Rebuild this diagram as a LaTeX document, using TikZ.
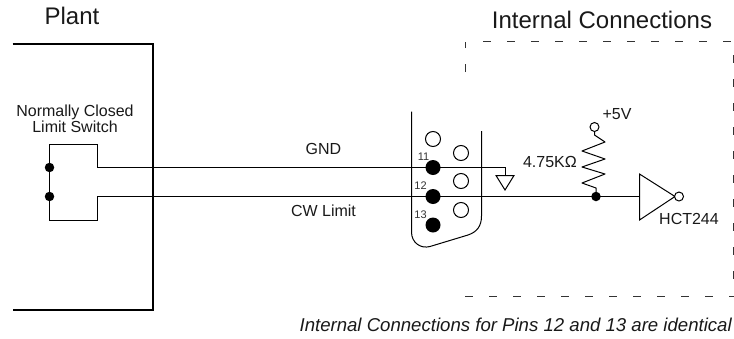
\documentclass[tikz,border=0pt]{standalone}
\usepackage{fontspec}
\setmainfont{Liberation Sans}
\tikzset{
  wire/.style={draw=black,line width=1pt,line join=miter},
  frame/.style={draw=black,line width=2pt},
  dash box/.style={draw=black!80,line width=1pt,dash pattern=on 8pt off 16pt},
  hole/.style={circle,draw=black,line width=1pt,fill=white,minimum size=15pt,inner sep=0pt},
  pin/.style={circle,fill=black,minimum size=15pt,inner sep=0pt},
  dot/.style={circle,fill=black,minimum size=9.5pt,inner sep=0pt},
  term/.style={circle,draw=black,line width=1pt,fill=white,minimum size=9pt,inner sep=0pt},
  lab/.style={font=\fontsize{16}{17}\selectfont,inner sep=0pt,text=black!90},
  big/.style={font=\fontsize{24}{26}\selectfont,inner sep=0pt,text=black!90},
  pinlab/.style={font=\fontsize{11}{11}\selectfont,inner sep=0pt,text=black!80}
}
\begin{document}
\begin{tikzpicture}[x=1pt,y=-1pt]
\useasboundingbox (0,0) rectangle (734,338);
\node[big] (plant) at (72,16) {Plant};
\node[big] (intc) at (602,20) {Internal Connections};
\coordinate (pa) at (12.5,44); \coordinate (pb) at (153,44);
\coordinate (pc) at (153,310); \coordinate (pd) at (12.5,310);
\draw[frame] (pa) -- (pb) -- (pc) -- (pd);
\draw[dash box] (465.5,72) -- (465.5,42);
\draw[dash box] (483,41.5) -- (734,41.5);
\draw[dash box] (733.5,55) -- (733.5,290);
\draw[dash box] (465,296.5) -- (734,296.5);
\node[lab,align=center] (nc) at (75,119) {Normally Closed\\[-1pt]Limit Switch};
% connector shell
\draw[wire] (411.5,111.5) -- (411.5,232) .. controls (411.5,243) and (421,249) .. (430,246.5) -- (468,235) .. controls (477,232) and (481.5,226) .. (481.5,216) -- (481.5,131);
% pins
\node[hole] (h1) at (433,139) {};
\node[hole] (h2) at (461,153) {};
\node[hole] (h3) at (461,181) {};
\node[hole] (h4) at (461,210) {};
\node[pin] (p11) at (433,167.5) {};
\node[pin] (p12) at (433,196.5) {};
\node[pin] (p13) at (433,225) {};
\node[pinlab] (l11) at (423.5,156.5) {11};
\node[pinlab] (l12) at (420.5,185.5) {12};
\node[pinlab] (l13) at (420.5,214.5) {13};
% switch
\node[dot] (s1) at (49.5,167.5) {};
\node[dot] (s2) at (49.5,196.5) {};
\coordinate (g0) at (505,175.5);
\draw[wire] (s1.center) -- (49.5,144.5) -- (97.5,144.5) -- (97.5,167.5) -- (p11.center) -- (505,167.5) -- (g0);
\draw[wire] (s2.center) -- (49.5,220.5) -- (97.5,220.5) -- (97.5,196.5) -- (p12.center);
\draw[wire] (s1.center) -- (s2.center);
% ground
\draw[wire,fill=white] (g0) -- (496,175.5) -- (505,190) -- (514,175.5) -- cycle;
% resistor
\node[term] (vcc) at (594.5,127) {};
\node[dot] (j) at (596,196.5) {};
\draw[wire,line join=round] (vcc) -- (594.5,135) -- (605,142) -- (582,151) -- (605,159) -- (582,167) -- (605,174) -- (582,183) -- (596,188) -- (j.center);
% gate
\coordinate (ga) at (639.5,196.5);
\draw[wire] (p12.center) -- (j.center) -- (ga);
\draw[wire] (639.5,174) -- (675,196.5) -- (639.5,220) -- cycle;
\node[term] (bub) at (679,196.5) {};
\node[lab] (v5) at (617,114) {+5V};
\node[lab,anchor=east] (r) at (577,162) {4.75KΩ};
\node[lab,anchor=west] (hct) at (659,219) {HCT244};
\node[lab] (gnd) at (323.5,149) {GND};
\node[lab] (cw) at (323.5,211) {CW Limit};
\node[lab,anchor=east,font=\fontsize{18.6}{20}\selectfont\itshape] (nt) at (732,325) {Internal Connections for Pins 12 and 13 are identical};
\end{tikzpicture}
\end{document}
